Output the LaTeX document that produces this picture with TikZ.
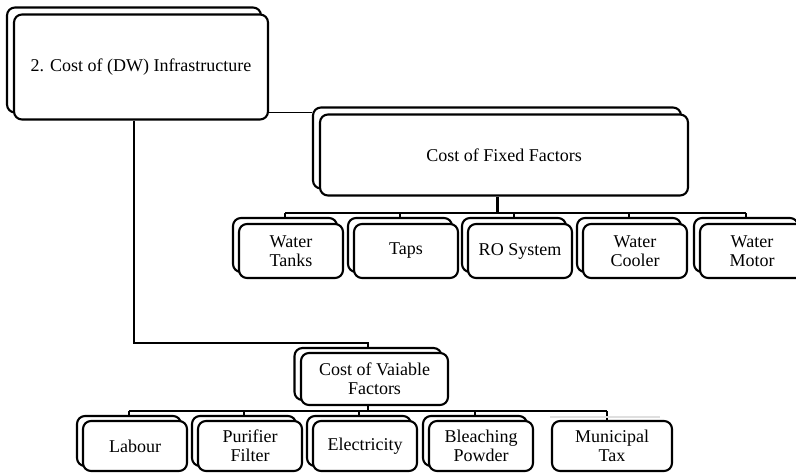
\documentclass[tikz,border=0pt]{standalone}
\usepackage{fontspec}
\setmainfont{Liberation Serif}
\begin{document}
\begin{tikzpicture}[x=1pt,y=-1pt,
  card/.style 2 args={draw=black, line width=2.1pt, rounded corners=8pt, fill=white,
    minimum width=#1, minimum height=#2, inner sep=0pt, align=center,
    font=\fontsize{18}{19.5}\selectfont},
  link/.style={line width=1.6pt, draw=black},
  trunk/.style={line width=3pt, draw=black}]
\useasboundingbox (0,0) rectangle (796,473);

% root
\node[card={254pt}{105pt}] (rootb) at (134,60) {};
\node[card={254pt}{105pt}] (root) at (141,67) {2. Cost of (DW) Infrastructure};

% fixed factors
\node[card={368pt}{81pt}] (fixb) at (497,148) {};
\node[card={368pt}{81pt}] (fix) at (504,155) {Cost of Fixed Factors};

\node[card={104pt}{54pt}] (wtb) at (285,245) {};
\node[card={104pt}{54pt}] (wt) at (291,251) {Water\\Tanks};
\node[card={104pt}{54pt}] (tpb) at (400,245) {};
\node[card={104pt}{54pt}] (tp) at (406,251) {Taps};
\node[card={104pt}{54pt}] (rob) at (514,245) {};
\node[card={104pt}{54pt}] (ro) at (520,251) {RO System};
\node[card={104pt}{54pt}] (wcb) at (629,245) {};
\node[card={104pt}{54pt}] (wc) at (635,251) {Water\\Cooler};
\node[card={104pt}{54pt}] (wmb) at (746,245) {};
\node[card={104pt}{54pt}] (wm) at (752,251) {Water\\Motor};

% variable factors
\node[card={147pt}{52pt}] (varb) at (368,374) {};
\node[card={147pt}{52pt}] (var) at (374.5,379) {Cost of Vaiable\\Factors};

\node[card={104pt}{50pt}] (lbb) at (129,441) {};
\node[card={104pt}{50pt}] (lb) at (135,446) {Labour};
\node[card={104pt}{50pt}] (pfb) at (244,441) {};
\node[card={104pt}{50pt}] (pf) at (250,446) {Purifier\\Filter};
\node[card={104pt}{50pt}] (elb) at (359,441) {};
\node[card={104pt}{50pt}] (el) at (365,446) {Electricity};
\node[card={104pt}{50pt}] (bpb) at (475,441) {};
\node[card={104pt}{50pt}] (bp) at (481,446) {Bleaching\\Powder};
\node[card={120pt}{50pt}] (mt) at (612,446) {Municipal\\Tax};

% connectors: root to the two groups
\draw[link] ([yshift=8pt]root.south east) -- ([yshift=8pt]root.south east -| fixb.west);
\coordinate (vturn) at (0,343);
\draw[link] (rootb.south |- root.south) -- (rootb.south |- vturn) -- (varb.north |- vturn) -- (varb.north);

% fixed factor branches
\coordinate (fbar) at (0,213);
\draw[trunk] (fix.south -| fixb.south) -- (fixb.south |- fbar);
\draw[link] (wtb.north |- fbar) -- (wmb.north |- fbar);
\foreach \c in {wtb,tpb,rob,wcb,wmb}
  \draw[link] (\c.north |- fbar) -- (\c.north);

% variable factor branches
\coordinate (vbar) at (0,411);
\coordinate (mtdrop) at (607,0);
\draw[link] (varb.south |- var.south) -- (varb.south |- vbar);
\draw[link] (lbb.north |- vbar) -- (mtdrop |- vbar);
\foreach \c in {lbb,pfb,elb,bpb}
  \draw[link] (\c.north |- vbar) -- (\c.north);
\draw[link] (mtdrop |- vbar) -- (mtdrop |- mt.north);
\draw[gray!25, line width=1.2pt] (550,417) -- (660,417);
\end{tikzpicture}
\end{document}
